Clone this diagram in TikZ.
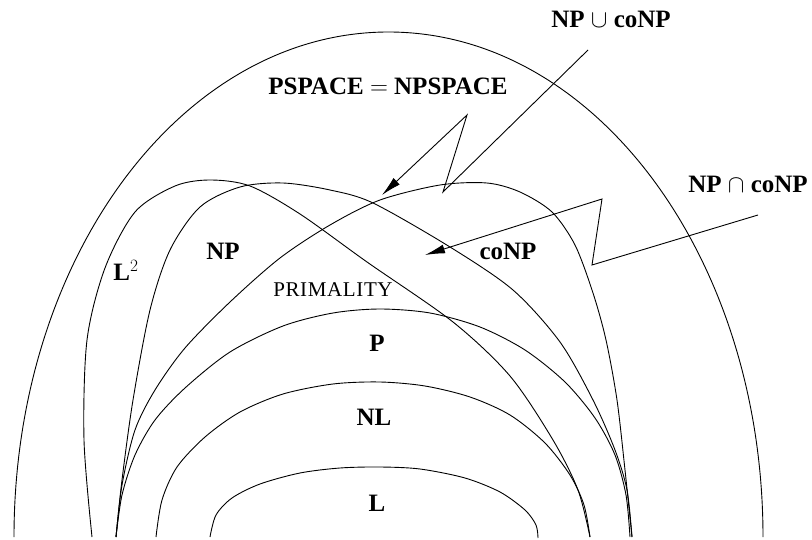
\documentclass[tikz,border=0pt]{standalone}
\usepackage{fontspec}
\setmainfont{Liberation Serif}
\usetikzlibrary{arrows.meta}

\begin{document}
\begin{tikzpicture}[x=1pt,y=-1pt,
  cls/.style={line width=0.9pt,line join=round},
  lab/.style={font=\fontsize{25}{28}\selectfont\bfseries,inner sep=0pt},
  sc/.style={font=\fontsize{21}{24}\selectfont\addfontfeatures{LetterSpace=3},inner sep=0pt},
  zz/.style={line width=0.9pt,-{Latex[length=20pt,width=9pt]}}]

\useasboundingbox (0,0) rectangle (812,540);

% PSPACE = NPSPACE
\draw[cls] (14,537) arc[start angle=180,end angle=360,x radius=374.5,y radius=505];

% L^2
\draw[cls] plot[smooth] coordinates {(92,537) (84,440) (87,340) (105,268) (135,212)
  (175,186) (210,180) (250,186) (300,214) (367,262) (453,322) (510,376) (553,440)
  (578,490) (590,537)};

% NP
\draw[cls] plot[smooth] coordinates {(116,537) (122,480) (133,400) (150,310) (170,250)
  (200,207) (240,187) (283,183) (330,190) (373,203) (450,247) (513,290) (560,342)
  (593,400) (615,450) (627,490) (632,537)};

% coNP
\draw[cls] plot[smooth] coordinates {(116,537) (122,485) (135,430) (155,390) (185,348)
  (230,302) (280,258) (330,225) (380,200) (440,185) (487,183) (520,192) (552,212)
  (575,245) (593,293) (606,340) (617,400) (625,470) (632,537)};

% P
\draw[cls] plot[smooth] coordinates {(116,537) (122,495) (135,455) (155,420) (185,388)
  (230,352) (283,326) (333,313) (380,309) (430,313) (480,327) (525,350) (565,382)
  (595,418) (615,455) (626,495) (630,537)};

% NL
\draw[cls] plot[smooth] coordinates {(156,537) (162,500) (177,467) (205,437) (240,412)
  (283,394) (333,384) (380,382) (425,386) (470,397) (510,415) (545,443) (570,475)
  (584,505) (590,537)};

% L
\draw[cls] plot[smooth] coordinates {(210,537) (216,515) (232,498) (260,484) (300,473)
  (340,468) (380,467) (420,469) (465,478) (500,492) (525,510) (536,525) (538,538)};

% labels
\node[lab] (pspace) at (388,86) {PSPACE $=$ NPSPACE};
\node[lab] (union) at (611,19) {NP $\cup$ coNP};
\node[lab] (inter) at (748,184) {NP $\cap$ coNP};
\node[lab] (np) at (223,251) {NP};
\node[lab] (conp) at (508,251) {coNP};
\node[lab] (ltwo) at (126,270) {L$^2$};
\node[sc] (prim) at (333,290) {PRIMALITY};
\node[lab] (p) at (377,343) {P};
\node[lab] (nl) at (374,417) {NL};
\node[lab] (l) at (377,503) {L};

% zigzag pointers
\coordinate (u0) at (588,50); \coordinate (u1) at (443,192);
\coordinate (u2) at (467,115); \coordinate (u3) at (382,195);
\draw[zz] (u0) -- (u1) -- (u2) -- (u3);
\coordinate (i0) at (758,215); \coordinate (i1) at (592,265);
\coordinate (i2) at (602,199); \coordinate (i3) at (425,255);
\draw[zz] (i0) -- (i1) -- (i2) -- (i3);
\end{tikzpicture}
\end{document}
